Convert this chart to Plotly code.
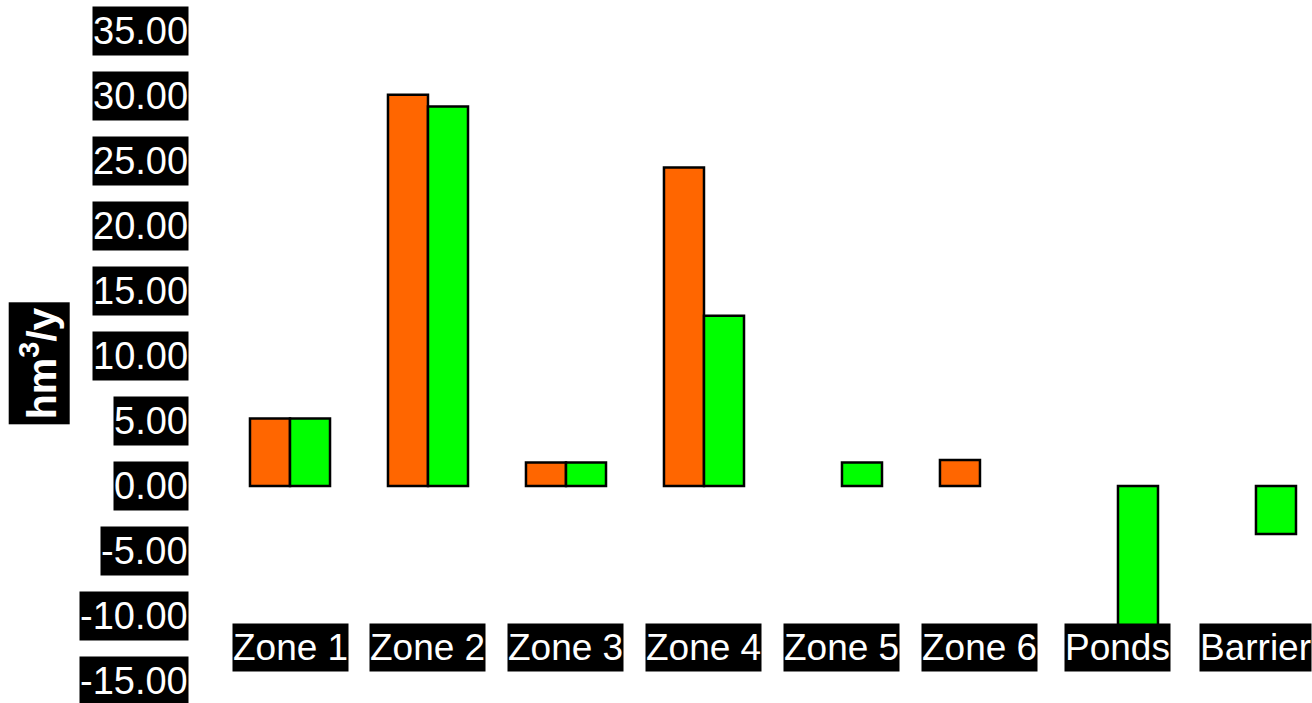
import plotly.graph_objects as go

# Annual volumes per zone (hm3/y)
categories = ["Zone 1", "Zone 2", "Zone 3", "Zone 4", "Zone 5", "Zone 6", "Ponds", "Barrier"]
series_a = [5.2, 30.1, 1.8, 24.5, None, 2.0, None, None]
series_b = [5.2, 29.2, 1.8, 13.1, 1.8, None, -12.0, -3.7]
y_ticks = [35, 30, 25, 20, 15, 10, 5, 0, -5, -10, -15]
label_y = -12.4
y_title = "hm<sup>3</sup>/y"

FONT = "Liberation Sans, Arial, sans-serif"

fig = go.Figure()
fig.add_trace(go.Bar(x=categories, y=series_a, marker=dict(color="#FF6600", line=dict(color="black", width=2.5))))
fig.add_trace(go.Bar(x=categories, y=series_b, marker=dict(color="#00FF00", line=dict(color="black", width=2.5))))

annotations = []
for v in y_ticks:
    annotations.append(dict(
        x=0, xref="paper", xanchor="right", xshift=-32,
        y=v, yref="y", yanchor="middle",
        text=f"{v:.2f}", showarrow=False, height=48, valign="middle",
        font=dict(family=FONT, size=38, color="white"),
        bgcolor="black", borderpad=0,
    ))
for c in categories:
    annotations.append(dict(
        x=c, xref="x", xanchor="center",
        y=label_y, yref="y", yanchor="middle",
        text=c, showarrow=False, height=47, valign="middle",
        font=dict(family=FONT, size=37, color="white"),
        bgcolor="black", borderpad=0,
    ))
annotations.append(dict(
    x=0, xref="paper", xanchor="center", xshift=-182,
    y=9.4, yref="y", yanchor="middle",
    text=f"<b>{y_title}</b>", textangle=-90, showarrow=False,
    height=60, width=121, valign="middle",
    font=dict(family=FONT, size=41, color="white"),
    bgcolor="black", borderpad=0,
))

fig.update_layout(
    width=1312, height=703,
    margin=dict(l=221, r=0, t=31, b=22),
    paper_bgcolor="white", plot_bgcolor="white",
    barmode="group", bargap=0.42, bargroupgap=0,
    showlegend=False,
    annotations=annotations,
    xaxis=dict(range=[-0.5, 7.406], showticklabels=False, showgrid=False, zeroline=False, showline=False, ticks=""),
    yaxis=dict(range=[-15, 35], showticklabels=False, showgrid=False, zeroline=False, showline=False, ticks=""),
)

fig.write_html("out.html")
